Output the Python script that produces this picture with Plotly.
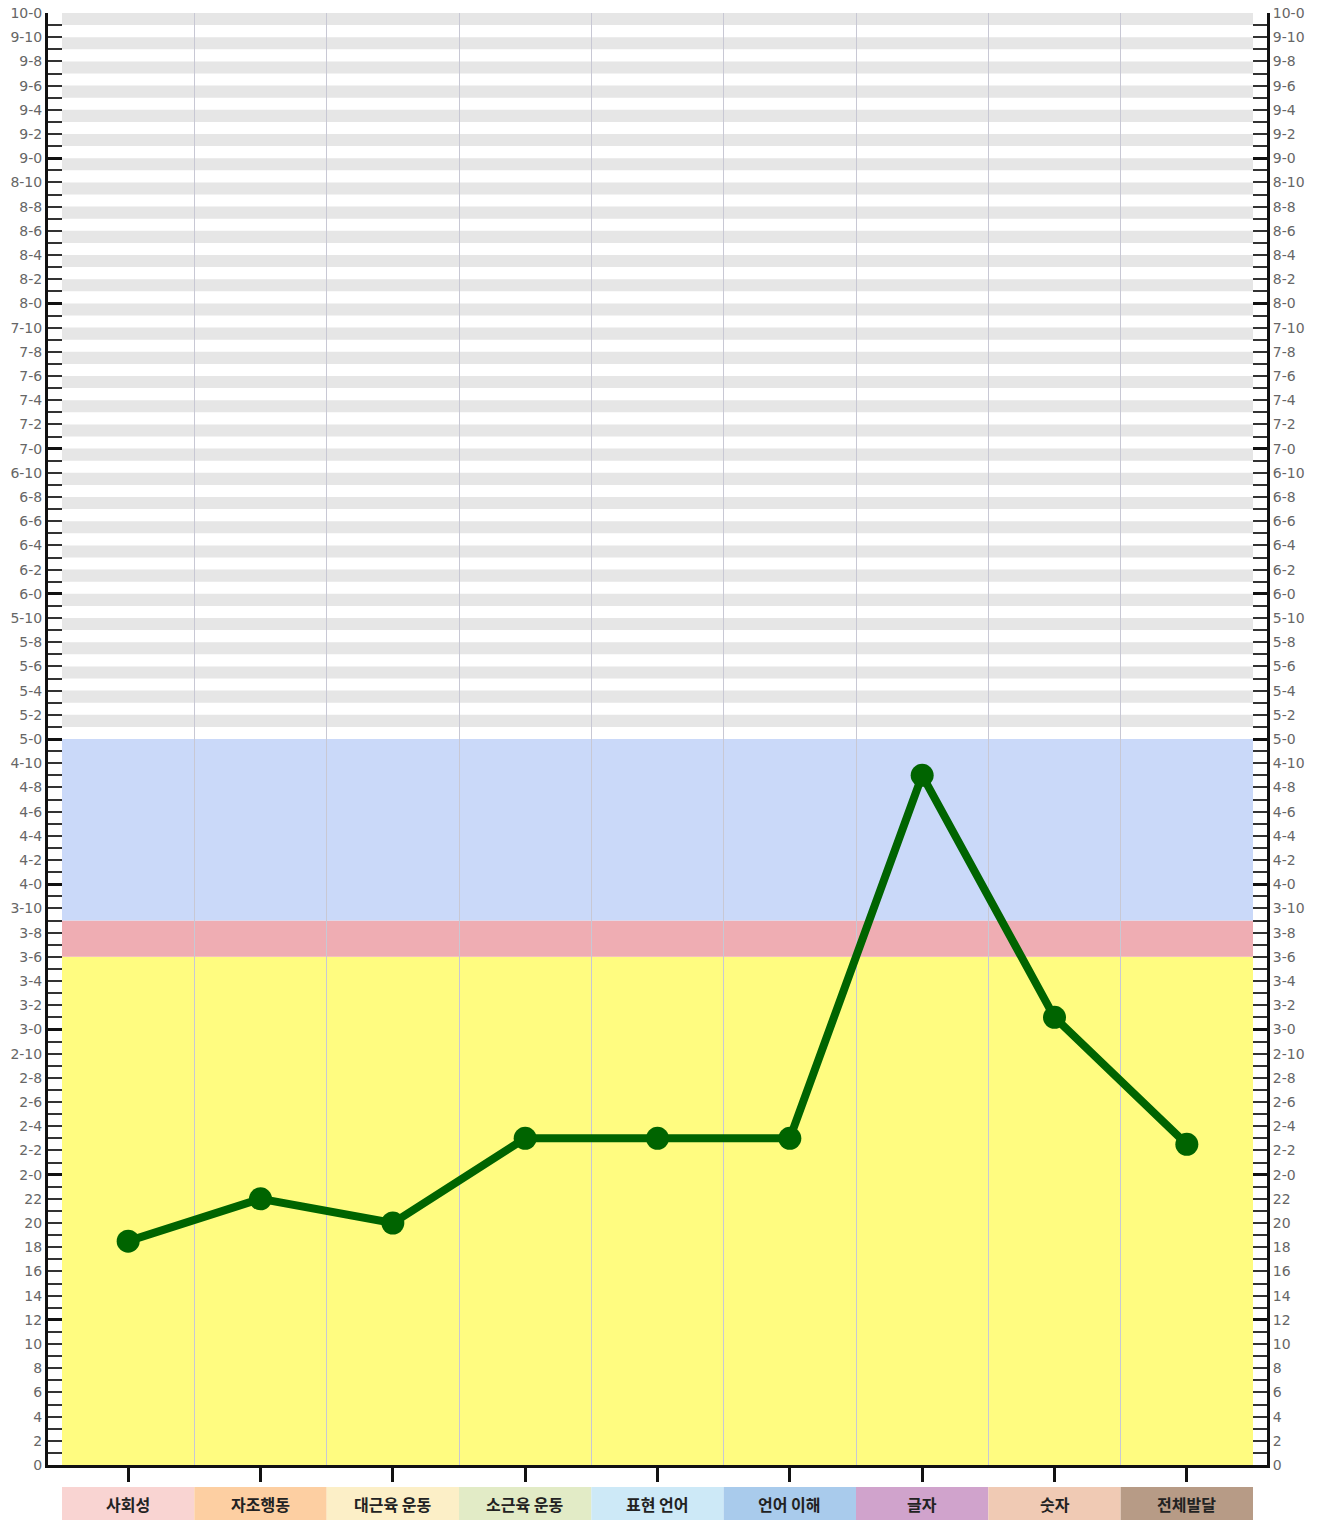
import plotly.graph_objects as go

# ---------------- data ----------------
categories = ["사회성", "자조행동", "대근육 운동", "소근육 운동", "표현 언어",
              "언어 이해", "글자", "숫자", "전체발달"]
months = [18.5, 22, 20, 27, 27, 27, 57, 37, 26.5]
category_colors = ["#f9d4d2", "#fdcfa2", "#fcefc7", "#e2ebc6", "#cde9f7",
                   "#a9cbec", "#d0a3cc", "#f0cab4", "#b79b86"]

# y-axis ticks (months), labelled every 2 months
tick_months = list(range(0, 121, 2))
tick_labels = [str(m) if m < 24 else f"{m // 12}-{m % 12}" for m in tick_months]
year_months = list(range(0, 121, 12))

# background bands (months)
yellow_band = (0, 42)
pink_band = (42, 45)
blue_band = (45, 60)
stripe_start, stripe_end = 60, 120

# ---------------- layout geometry ----------------
W, H = 1321, 1520
ML, MR, MT, MB = 48, 54, 13, 55
plot_w = W - ML - MR
plot_h = H - MT - MB
inner_pad_px = 14          # gap between axis line and shaded area
n = len(categories)
unit_px = (plot_w - 2 * inner_pad_px) / n
pad_units = inner_pad_px / unit_px

xs = [i + 0.5 for i in range(n)]

fig = go.Figure()

fig.add_trace(go.Scatter(
    x=xs, y=months, mode="lines+markers",
    line=dict(color="#006400", width=8),
    marker=dict(color="#006400", size=23),
    showlegend=False, hoverinfo="skip", cliponaxis=False,
))
for ax in ["y2", "y3", "y4"]:
    fig.add_trace(go.Scatter(x=[None], y=[None], yaxis=ax, showlegend=False,
                             hoverinfo="skip"))

shapes = []
# stripes
for m in range(stripe_start + 1, stripe_end, 2):
    shapes.append(dict(type="rect", xref="x", yref="y", x0=0, x1=n, y0=m, y1=m + 1,
                       fillcolor="#e6e6e6", line=dict(width=0), layer="below"))
for (a, b), col in [(yellow_band, "#fffc80"), (pink_band, "#efadb3"), (blue_band, "#cad9f9")]:
    shapes.append(dict(type="rect", xref="x", yref="y", x0=0, x1=n, y0=a, y1=b,
                       fillcolor=col, line=dict(width=0), layer="below"))

# category label boxes below the axis
box_top = (MT + plot_h - 1487) / plot_h
box_bot = (MT + plot_h - H) / plot_h
annotations = []
for i, (cat, col) in enumerate(zip(categories, category_colors)):
    shapes.append(dict(type="rect", xref="x", yref="paper", x0=i, x1=i + 1,
                       y0=box_bot, y1=box_top, fillcolor=col, line=dict(width=0),
                       layer="above"))
    annotations.append(dict(x=i + 0.5, y=(box_top + box_bot) / 2, xref="x", yref="paper",
                            text=f"<b>{cat}</b>", showarrow=False, yanchor="middle",
                            font=dict(family="Noto Sans CJK KR", size=16, color="#222222")))

tick_font = dict(family="DejaVu Sans", size=14, color="#666666")
base_y = dict(range=[0, 120], showgrid=False, zeroline=False, fixedrange=True,
              automargin=False)

fig.update_layout(
    width=W, height=H,
    margin=dict(l=ML, r=MR, t=MT, b=MB, autoexpand=False),
    plot_bgcolor="white", paper_bgcolor="white",
    shapes=shapes, annotations=annotations,
    xaxis=dict(range=[-pad_units, n + pad_units], showgrid=False, zeroline=False,
               automargin=False, fixedrange=True,
               tickvals=xs, ticks="outside", ticklen=14, tickwidth=2.5,
               tickcolor="#111111", showticklabels=False,
               showline=True, linewidth=3, linecolor="#111111",
               minor=dict(tickvals=list(range(1, n)), showgrid=True,
                          gridcolor="#c8c8d4", gridwidth=1, ticks="")),
    yaxis=dict(**base_y, tickvals=tick_months, ticktext=tick_labels,
               ticks="inside", ticklen=14, tickwidth=1.5, tickcolor="#333333",
               tickfont=tick_font, showline=True, linewidth=3, linecolor="#111111",
               minor=dict(dtick=1, tick0=0, ticks="inside", ticklen=14,
                          tickwidth=1.5, tickcolor="#333333")),
    yaxis2=dict(**base_y, overlaying="y", side="right", anchor="x",
                tickvals=tick_months, ticktext=tick_labels,
                ticks="inside", ticklen=14, tickwidth=1.5, tickcolor="#333333",
                tickfont=tick_font, showline=True, linewidth=3, linecolor="#111111",
                minor=dict(dtick=1, tick0=0, ticks="inside", ticklen=14,
                           tickwidth=1.5, tickcolor="#333333")),
    yaxis3=dict(**base_y, overlaying="y", side="left", anchor="x",
                tickvals=year_months, ticks="inside", ticklen=14, tickwidth=3,
                tickcolor="#111111", showticklabels=False, showline=False),
    yaxis4=dict(**base_y, overlaying="y", side="right", anchor="x",
                tickvals=year_months, ticks="inside", ticklen=14, tickwidth=3,
                tickcolor="#111111", showticklabels=False, showline=False),
)

fig.write_html("out.html", config={"displayModeBar": False},
               post_script="document.body.style.margin='0px';")
